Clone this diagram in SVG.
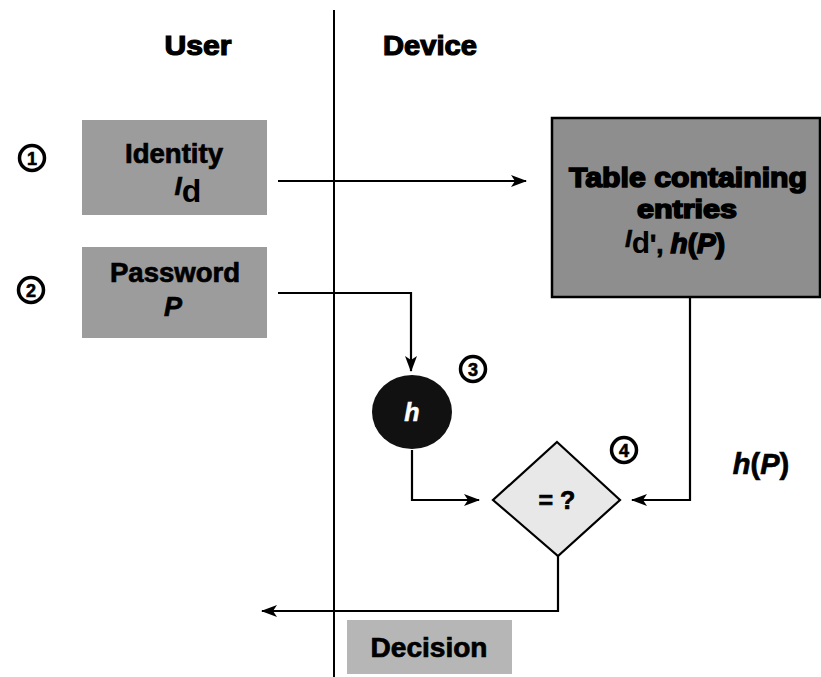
<svg xmlns="http://www.w3.org/2000/svg" width="821" height="677" viewBox="0 0 821 677">
<defs>
<marker id="arr" markerUnits="userSpaceOnUse" markerWidth="16" markerHeight="12" refX="15" refY="6" orient="auto">
<path d="M0,0 L16,6 L0,12 L4,6 z" fill="#000"/>
</marker>
<style>
.lbl{font-family:"Liberation Sans",Arial,sans-serif;font-weight:bold;fill:#000;text-anchor:middle;stroke:#000;stroke-width:0.7}
.heavy{stroke-width:1.2}
.conn{fill:none;stroke:#000;stroke-width:2.2}
.box{stroke:none}
.num circle{fill:#fff;stroke:#000;stroke-width:3.5}
.num text{font-family:"Liberation Sans",Arial,sans-serif;font-weight:bold;font-size:18px;text-anchor:middle;fill:#000;stroke:#000;stroke-width:0.6}
</style>
</defs>
<rect width="821" height="677" fill="#fff"/>

<g id="divider">
<line x1="334" y1="10" x2="334" y2="677" stroke="#000" stroke-width="2"/>
</g>

<g id="headers">
<text class="lbl heavy" x="198" y="55" font-size="27" textLength="67" lengthAdjust="spacingAndGlyphs">User</text>
<text class="lbl heavy" x="430" y="55" font-size="27" textLength="94" lengthAdjust="spacingAndGlyphs">Device</text>
</g>

<g id="connectors">
<path class="conn" d="M278,181 H526" marker-end="url(#arr)"/>
<path class="conn" d="M278,293 H411 V371" marker-end="url(#arr)"/>
<path class="conn" d="M412,450 V500 H479" marker-end="url(#arr)"/>
<path class="conn" d="M690,297 V500 H632" marker-end="url(#arr)"/>
<path class="conn" d="M558,556 V611 H262" marker-end="url(#arr)"/>
</g>

<g id="step1" class="num">
<circle cx="32" cy="158" r="12.5"/>
<text x="32" y="164.5">1</text>
</g>
<g id="step2" class="num">
<circle cx="31" cy="290" r="12.5"/>
<text x="31" y="296.5">2</text>
</g>
<g id="step3" class="num">
<circle cx="473" cy="369" r="12.5"/>
<text x="473" y="375.5">3</text>
</g>
<g id="step4" class="num">
<circle cx="624" cy="450" r="12.5"/>
<text x="624" y="456.5">4</text>
</g>

<g id="identity">
<rect class="box" x="82" y="120" width="185" height="95" fill="#9c9c9c"/>
<text class="lbl" x="174" y="163" font-size="27" textLength="98" lengthAdjust="spacingAndGlyphs">Identity</text>
<text x="188" y="202" font-family="Liberation Sans,Arial,sans-serif" text-anchor="middle"><tspan font-style="italic" font-weight="bold" font-size="26" dy="-7" stroke="#000" stroke-width="0.6">I</tspan><tspan font-size="32" dy="7" font-weight="bold">d</tspan></text>
</g>

<g id="password">
<rect class="box" x="82" y="247" width="185" height="91" fill="#9c9c9c"/>
<text class="lbl" x="175" y="282" font-size="27" textLength="130" lengthAdjust="spacingAndGlyphs">Password</text>
<text class="lbl" x="173" y="316" font-size="27" font-style="italic">P</text>
</g>

<g id="table">
<rect x="552" y="118" width="268" height="179" fill="#8e8e8e" stroke="#000" stroke-width="2.5"/>
<text class="lbl heavy" x="688" y="187" font-size="28" textLength="238" lengthAdjust="spacingAndGlyphs" style="stroke-width:1.6">Table containing</text>
<text class="lbl heavy" x="687" y="218" font-size="25" textLength="100" lengthAdjust="spacingAndGlyphs" style="stroke-width:1.6">entries</text>
<text x="675" y="253" font-family="Liberation Sans,Arial,sans-serif" text-anchor="middle"><tspan font-style="italic" font-weight="bold" font-size="24" dy="-6" stroke="#000" stroke-width="0.6">I</tspan><tspan font-size="30" dy="6" font-weight="bold">d</tspan><tspan font-weight="bold" font-size="26" stroke="#000" stroke-width="0.8">', </tspan><tspan font-weight="bold" font-style="italic" font-size="28" stroke="#000" stroke-width="1.6">h</tspan><tspan font-weight="bold" font-size="28" stroke="#000" stroke-width="1.6">(</tspan><tspan font-weight="bold" font-style="italic" font-size="28" stroke="#000" stroke-width="1.6">P</tspan><tspan font-weight="bold" font-size="28" stroke="#000" stroke-width="1.6">)</tspan></text>
</g>

<g id="hash">
<ellipse cx="412" cy="412" rx="40" ry="37" fill="#111"/>
<text class="lbl" x="412" y="421" font-size="25" font-style="italic" style="fill:#fff;stroke:#fff;stroke-width:0.5">h</text>
</g>

<g id="compare">
<polygon points="557,442 620,500 558,556 493,500" fill="#e8e8e8" stroke="#000" stroke-width="2.2"/>
<text class="lbl" x="557" y="509" font-size="25">= ?</text>
</g>

<g id="hp-label">
<text class="lbl" x="761" y="474" font-size="29" font-style="italic"><tspan>h</tspan><tspan font-style="normal">(</tspan><tspan>P</tspan><tspan font-style="normal">)</tspan></text>
</g>

<g id="decision">
<rect class="box" x="347" y="620" width="165" height="54" fill="#b6b6b6"/>
<text class="lbl" x="429" y="657" font-size="27" textLength="117" lengthAdjust="spacingAndGlyphs">Decision</text>
</g>
</svg>
